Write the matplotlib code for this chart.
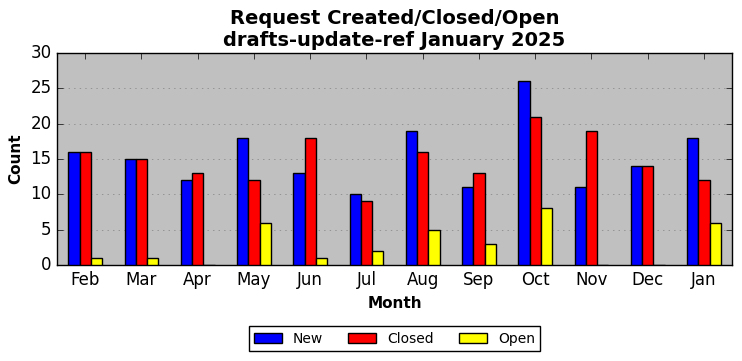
import matplotlib
matplotlib.use("Agg")
import matplotlib.pyplot as plt
import numpy as np

plt.style.use("classic")

MONTHS = ["Feb", "Mar", "Apr", "May", "Jun", "Jul", "Aug", "Sep", "Oct", "Nov", "Dec", "Jan"]
NEW = [16, 15, 12, 18, 13, 10, 19, 11, 26, 11, 14, 18]
CLOSED = [16, 15, 13, 12, 18, 9, 16, 13, 21, 19, 14, 12]
OPEN = [1, 1, 0, 6, 1, 2, 5, 3, 8, 0, 0, 6]

fig = plt.figure(figsize=(7.42, 3.61), dpi=100, facecolor="white")
ax = fig.add_axes([57 / 742, 1 - 265 / 361, 675 / 742, 212 / 361])
ax.set_facecolor("silver")

x = np.arange(len(MONTHS))
w = 0.2
ax.bar(x - w, NEW, w, color="blue", edgecolor="black", label="New", zorder=3)
ax.bar(x, CLOSED, w, color="red", edgecolor="black", label="Closed", zorder=3)
ax.bar(x + w, OPEN, w, color="yellow", edgecolor="black", label="Open", zorder=3)

ax.set_xlim(-0.5, len(MONTHS) - 0.5)
ax.set_ylim(0, 30)
ax.set_xticks(x)
ax.set_xticklabels(MONTHS, fontsize=12)
ax.tick_params(axis="y", labelsize=12)
ax.yaxis.grid(True, linestyle=":", color="gray", zorder=0)
ax.set_axisbelow(True)

ax.set_xlabel("Month", fontsize=11, fontweight="bold")
ax.set_ylabel("Count", fontsize=11, fontweight="bold")
ax.set_title("Request Created/Closed/Open\ndrafts-update-ref January 2025",
             fontsize=14, fontweight="bold")

ax.legend(loc="upper center", bbox_to_anchor=(0.5, -0.255), ncol=3,
          fontsize=10, frameon=True, fancybox=False, columnspacing=1.8)

fig.savefig("out.png", dpi=100, facecolor="white")
